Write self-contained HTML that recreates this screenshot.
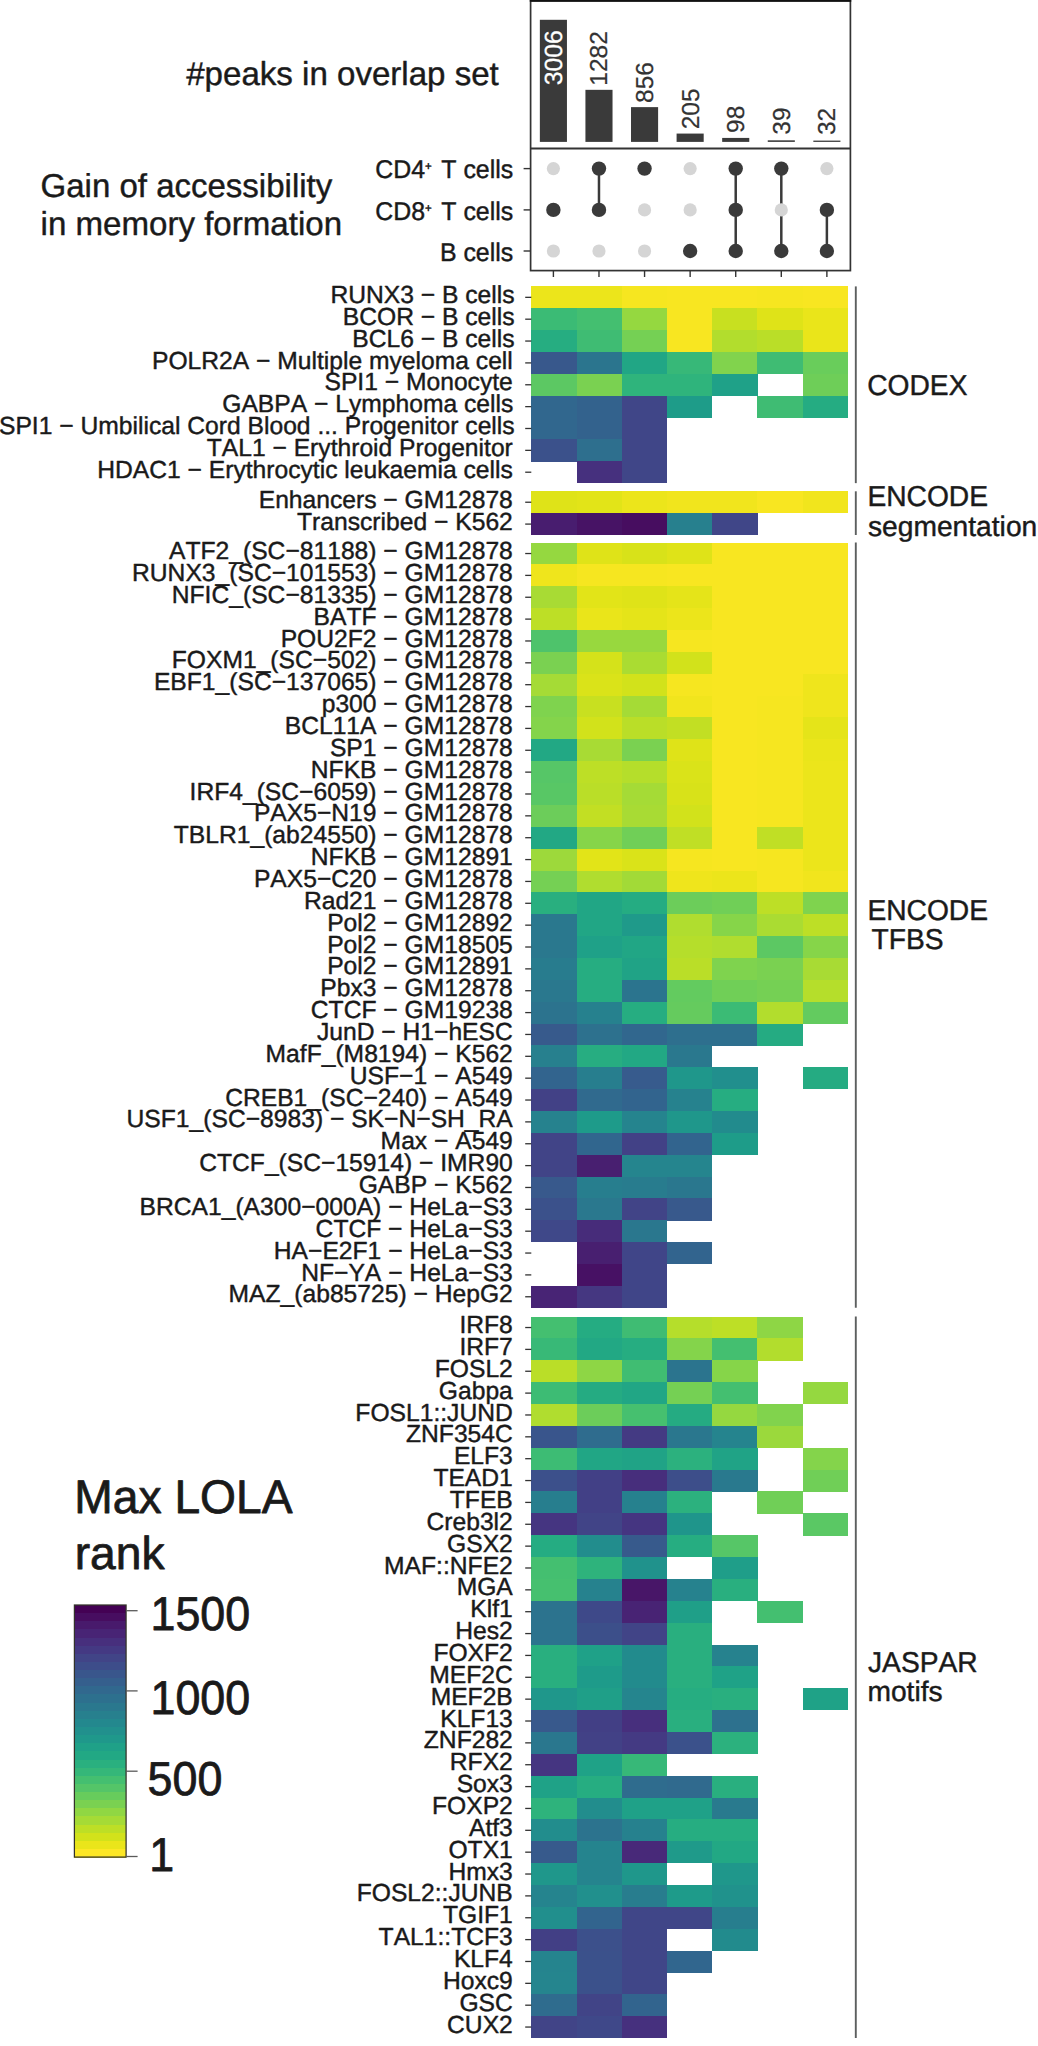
<!DOCTYPE html>
<html lang="en"><head><meta charset="utf-8"><title>LOLA enrichment heatmap</title>
<style>html,body{margin:0;padding:0;background:#fff}svg{display:block}text{font-kerning:none;font-variant-ligatures:none;text-rendering:geometricPrecision}</style></head>
<body>
<svg width="1038" height="2046" viewBox="0 0 1038 2046" font-family='"Liberation Sans", Arial, Helvetica, sans-serif' fill="#1a1a1a">
<rect width="1038" height="2046" fill="#fff"/>
<g id="bars">
<rect x="539.85" y="19.80" width="27.1" height="122.10" fill="#3a3a3a"/>
<rect x="585.43" y="89.83" width="27.1" height="52.07" fill="#3a3a3a"/>
<rect x="631.01" y="107.13" width="27.1" height="34.77" fill="#3a3a3a"/>
<rect x="676.59" y="133.57" width="27.1" height="8.33" fill="#3a3a3a"/>
<rect x="722.17" y="137.92" width="27.1" height="3.98" fill="#3a3a3a"/>
<rect x="767.75" y="140.32" width="27.1" height="1.58" fill="#3a3a3a"/>
<rect x="813.33" y="140.60" width="27.1" height="1.30" fill="#3a3a3a"/>
</g>
<g id="dots">
<circle cx="553.40" cy="168.6" r="6.6" fill="#d5d5d5"/>
<circle cx="553.40" cy="209.9" r="7.2" fill="#3a3a3a"/>
<circle cx="553.40" cy="251.0" r="6.6" fill="#d5d5d5"/>
<line x1="598.98" x2="598.98" y1="168.6" y2="209.9" stroke="#3a3a3a" stroke-width="2.5"/>
<circle cx="598.98" cy="168.6" r="7.2" fill="#3a3a3a"/>
<circle cx="598.98" cy="209.9" r="7.2" fill="#3a3a3a"/>
<circle cx="598.98" cy="251.0" r="6.6" fill="#d5d5d5"/>
<circle cx="644.56" cy="168.6" r="7.2" fill="#3a3a3a"/>
<circle cx="644.56" cy="209.9" r="6.6" fill="#d5d5d5"/>
<circle cx="644.56" cy="251.0" r="6.6" fill="#d5d5d5"/>
<circle cx="690.14" cy="168.6" r="6.6" fill="#d5d5d5"/>
<circle cx="690.14" cy="209.9" r="6.6" fill="#d5d5d5"/>
<circle cx="690.14" cy="251.0" r="7.2" fill="#3a3a3a"/>
<line x1="735.72" x2="735.72" y1="168.6" y2="251.0" stroke="#3a3a3a" stroke-width="2.5"/>
<circle cx="735.72" cy="168.6" r="7.2" fill="#3a3a3a"/>
<circle cx="735.72" cy="209.9" r="7.2" fill="#3a3a3a"/>
<circle cx="735.72" cy="251.0" r="7.2" fill="#3a3a3a"/>
<line x1="781.30" x2="781.30" y1="168.6" y2="251.0" stroke="#3a3a3a" stroke-width="2.5"/>
<circle cx="781.30" cy="168.6" r="7.2" fill="#3a3a3a"/>
<circle cx="781.30" cy="209.9" r="6.6" fill="#d5d5d5"/>
<circle cx="781.30" cy="251.0" r="7.2" fill="#3a3a3a"/>
<line x1="826.88" x2="826.88" y1="209.9" y2="251.0" stroke="#3a3a3a" stroke-width="2.5"/>
<circle cx="826.88" cy="168.6" r="6.6" fill="#d5d5d5"/>
<circle cx="826.88" cy="209.9" r="7.2" fill="#3a3a3a"/>
<circle cx="826.88" cy="251.0" r="7.2" fill="#3a3a3a"/>
</g>
<g stroke="#333" stroke-width="1.7" fill="none">
<rect x="530.6" y="0.8" width="319.80" height="269.80"/>
<line x1="530.6" x2="850.4" y1="148.5" y2="148.5" stroke-width="2"/>
<line x1="523.6" x2="530.6" y1="168.6" y2="168.6" stroke-width="1.4"/>
<line x1="523.6" x2="530.6" y1="209.9" y2="209.9" stroke-width="1.4"/>
<line x1="523.6" x2="530.6" y1="251.0" y2="251.0" stroke-width="1.4"/>
<line x1="553.40" x2="553.40" y1="270.6" y2="277.0" stroke-width="1.4"/>
<line x1="598.98" x2="598.98" y1="270.6" y2="277.0" stroke-width="1.4"/>
<line x1="644.56" x2="644.56" y1="270.6" y2="277.0" stroke-width="1.4"/>
<line x1="690.14" x2="690.14" y1="270.6" y2="277.0" stroke-width="1.4"/>
<line x1="735.72" x2="735.72" y1="270.6" y2="277.0" stroke-width="1.4"/>
<line x1="781.30" x2="781.30" y1="270.6" y2="277.0" stroke-width="1.4"/>
<line x1="826.88" x2="826.88" y1="270.6" y2="277.0" stroke-width="1.4"/>
</g>
<line x1="529.75" x2="851.25" y1="0.9" y2="0.9" stroke="#111" stroke-width="1.8"/>
<g id="hm-codex" shape-rendering="crispEdges">
<rect x="531.30" y="286.40" width="45.50" height="22.16" fill="#ece51b"/>
<rect x="576.50" y="286.40" width="45.50" height="22.16" fill="#ece51b"/>
<rect x="621.70" y="286.40" width="45.50" height="22.16" fill="#f6e620"/>
<rect x="666.90" y="286.40" width="45.50" height="22.16" fill="#f8e621"/>
<rect x="712.10" y="286.40" width="45.50" height="22.16" fill="#f8e621"/>
<rect x="757.30" y="286.40" width="45.50" height="22.16" fill="#f6e620"/>
<rect x="802.50" y="286.40" width="45.50" height="22.16" fill="#f8e621"/>
<rect x="531.30" y="308.26" width="45.50" height="22.16" fill="#3bbb75"/>
<rect x="576.50" y="308.26" width="45.50" height="22.16" fill="#44bf70"/>
<rect x="621.70" y="308.26" width="45.50" height="22.16" fill="#95d840"/>
<rect x="666.90" y="308.26" width="45.50" height="22.16" fill="#f8e621"/>
<rect x="712.10" y="308.26" width="45.50" height="22.16" fill="#c8e020"/>
<rect x="757.30" y="308.26" width="45.50" height="22.16" fill="#dfe318"/>
<rect x="802.50" y="308.26" width="45.50" height="22.16" fill="#eae51a"/>
<rect x="531.30" y="330.12" width="45.50" height="22.16" fill="#26ad81"/>
<rect x="576.50" y="330.12" width="45.50" height="22.16" fill="#3fbc73"/>
<rect x="621.70" y="330.12" width="45.50" height="22.16" fill="#75d054"/>
<rect x="666.90" y="330.12" width="45.50" height="22.16" fill="#f8e621"/>
<rect x="712.10" y="330.12" width="45.50" height="22.16" fill="#b2dd2d"/>
<rect x="757.30" y="330.12" width="45.50" height="22.16" fill="#bade28"/>
<rect x="802.50" y="330.12" width="45.50" height="22.16" fill="#eae51a"/>
<rect x="531.30" y="351.98" width="45.50" height="22.16" fill="#38588c"/>
<rect x="576.50" y="351.98" width="45.50" height="22.16" fill="#2b758e"/>
<rect x="621.70" y="351.98" width="45.50" height="22.16" fill="#21a685"/>
<rect x="666.90" y="351.98" width="45.50" height="22.16" fill="#37b878"/>
<rect x="712.10" y="351.98" width="45.50" height="22.16" fill="#81d34d"/>
<rect x="757.30" y="351.98" width="45.50" height="22.16" fill="#3fbc73"/>
<rect x="802.50" y="351.98" width="45.50" height="22.16" fill="#69cd5b"/>
<rect x="531.30" y="373.84" width="45.50" height="22.16" fill="#5cc863"/>
<rect x="576.50" y="373.84" width="45.50" height="22.16" fill="#7ad151"/>
<rect x="621.70" y="373.84" width="45.50" height="22.16" fill="#2fb47c"/>
<rect x="666.90" y="373.84" width="45.50" height="22.16" fill="#2fb47c"/>
<rect x="712.10" y="373.84" width="45.50" height="22.16" fill="#1fa188"/>
<rect x="802.50" y="373.84" width="45.50" height="22.16" fill="#6ece58"/>
<rect x="531.30" y="395.70" width="45.50" height="22.16" fill="#31678e"/>
<rect x="576.50" y="395.70" width="45.50" height="22.16" fill="#33628d"/>
<rect x="621.70" y="395.70" width="45.50" height="22.16" fill="#404688"/>
<rect x="666.90" y="395.70" width="45.50" height="22.16" fill="#1e9c89"/>
<rect x="757.30" y="395.70" width="45.50" height="22.16" fill="#3fbc73"/>
<rect x="802.50" y="395.70" width="45.50" height="22.16" fill="#25ac82"/>
<rect x="531.30" y="417.56" width="45.50" height="22.16" fill="#31678e"/>
<rect x="576.50" y="417.56" width="45.50" height="22.16" fill="#33628d"/>
<rect x="621.70" y="417.56" width="45.50" height="22.16" fill="#404688"/>
<rect x="531.30" y="439.42" width="45.50" height="22.16" fill="#3b518b"/>
<rect x="576.50" y="439.42" width="45.50" height="22.16" fill="#2e6f8e"/>
<rect x="621.70" y="439.42" width="45.50" height="22.16" fill="#404688"/>
<rect x="576.50" y="461.28" width="45.50" height="22.16" fill="#46307e"/>
<rect x="621.70" y="461.28" width="45.50" height="22.16" fill="#404688"/>
</g>
<g stroke="#333" stroke-width="1.3">
<line x1="525.2" x2="531.3" y1="297.33" y2="297.33"/>
<line x1="525.2" x2="531.3" y1="319.19" y2="319.19"/>
<line x1="525.2" x2="531.3" y1="341.05" y2="341.05"/>
<line x1="525.2" x2="531.3" y1="362.91" y2="362.91"/>
<line x1="525.2" x2="531.3" y1="384.77" y2="384.77"/>
<line x1="525.2" x2="531.3" y1="406.63" y2="406.63"/>
<line x1="525.2" x2="531.3" y1="428.49" y2="428.49"/>
<line x1="525.2" x2="531.3" y1="450.35" y2="450.35"/>
<line x1="525.2" x2="531.3" y1="472.21" y2="472.21"/>
</g>
<line x1="855.8" x2="855.8" y1="286.40" y2="483.14" stroke="#5c5f5f" stroke-width="1.9"/>
<g id="hm-seg" shape-rendering="crispEdges">
<rect x="531.30" y="491.30" width="45.50" height="22.16" fill="#dfe318"/>
<rect x="576.50" y="491.30" width="45.50" height="22.16" fill="#e2e418"/>
<rect x="621.70" y="491.30" width="45.50" height="22.16" fill="#ece51b"/>
<rect x="666.90" y="491.30" width="45.50" height="22.16" fill="#f1e51d"/>
<rect x="712.10" y="491.30" width="45.50" height="22.16" fill="#f1e51d"/>
<rect x="757.30" y="491.30" width="45.50" height="22.16" fill="#f8e621"/>
<rect x="802.50" y="491.30" width="45.50" height="22.16" fill="#f1e51d"/>
<rect x="531.30" y="513.16" width="45.50" height="22.16" fill="#481d6f"/>
<rect x="576.50" y="513.16" width="45.50" height="22.16" fill="#471365"/>
<rect x="621.70" y="513.16" width="45.50" height="22.16" fill="#470d60"/>
<rect x="666.90" y="513.16" width="45.50" height="22.16" fill="#27808e"/>
<rect x="712.10" y="513.16" width="45.50" height="22.16" fill="#404688"/>
</g>
<g stroke="#333" stroke-width="1.3">
<line x1="525.2" x2="531.3" y1="502.23" y2="502.23"/>
<line x1="525.2" x2="531.3" y1="524.09" y2="524.09"/>
</g>
<line x1="855.8" x2="855.8" y1="491.30" y2="535.02" stroke="#5c5f5f" stroke-width="1.9"/>
<g id="hm-tfbs" shape-rendering="crispEdges">
<rect x="531.30" y="542.60" width="45.50" height="22.16" fill="#95d840"/>
<rect x="576.50" y="542.60" width="45.50" height="22.16" fill="#dfe318"/>
<rect x="621.70" y="542.60" width="45.50" height="22.16" fill="#d8e219"/>
<rect x="666.90" y="542.60" width="45.50" height="22.16" fill="#dfe318"/>
<rect x="712.10" y="542.60" width="45.50" height="22.16" fill="#f8e621"/>
<rect x="757.30" y="542.60" width="45.50" height="22.16" fill="#f8e621"/>
<rect x="802.50" y="542.60" width="45.50" height="22.16" fill="#f8e621"/>
<rect x="531.30" y="564.46" width="45.50" height="22.16" fill="#efe51c"/>
<rect x="576.50" y="564.46" width="45.50" height="22.16" fill="#f6e620"/>
<rect x="621.70" y="564.46" width="45.50" height="22.16" fill="#f6e620"/>
<rect x="666.90" y="564.46" width="45.50" height="22.16" fill="#f8e621"/>
<rect x="712.10" y="564.46" width="45.50" height="22.16" fill="#f8e621"/>
<rect x="757.30" y="564.46" width="45.50" height="22.16" fill="#f8e621"/>
<rect x="802.50" y="564.46" width="45.50" height="22.16" fill="#f8e621"/>
<rect x="531.30" y="586.32" width="45.50" height="22.16" fill="#a8db34"/>
<rect x="576.50" y="586.32" width="45.50" height="22.16" fill="#e2e418"/>
<rect x="621.70" y="586.32" width="45.50" height="22.16" fill="#dfe318"/>
<rect x="666.90" y="586.32" width="45.50" height="22.16" fill="#e5e419"/>
<rect x="712.10" y="586.32" width="45.50" height="22.16" fill="#f8e621"/>
<rect x="757.30" y="586.32" width="45.50" height="22.16" fill="#f8e621"/>
<rect x="802.50" y="586.32" width="45.50" height="22.16" fill="#f8e621"/>
<rect x="531.30" y="608.18" width="45.50" height="22.16" fill="#bddf26"/>
<rect x="576.50" y="608.18" width="45.50" height="22.16" fill="#eae51a"/>
<rect x="621.70" y="608.18" width="45.50" height="22.16" fill="#e5e419"/>
<rect x="666.90" y="608.18" width="45.50" height="22.16" fill="#ece51b"/>
<rect x="712.10" y="608.18" width="45.50" height="22.16" fill="#f8e621"/>
<rect x="757.30" y="608.18" width="45.50" height="22.16" fill="#f8e621"/>
<rect x="802.50" y="608.18" width="45.50" height="22.16" fill="#f8e621"/>
<rect x="531.30" y="630.04" width="45.50" height="22.16" fill="#4ec36b"/>
<rect x="576.50" y="630.04" width="45.50" height="22.16" fill="#98d83e"/>
<rect x="621.70" y="630.04" width="45.50" height="22.16" fill="#98d83e"/>
<rect x="666.90" y="630.04" width="45.50" height="22.16" fill="#f6e620"/>
<rect x="712.10" y="630.04" width="45.50" height="22.16" fill="#f8e621"/>
<rect x="757.30" y="630.04" width="45.50" height="22.16" fill="#f8e621"/>
<rect x="802.50" y="630.04" width="45.50" height="22.16" fill="#f8e621"/>
<rect x="531.30" y="651.90" width="45.50" height="22.16" fill="#7ad151"/>
<rect x="576.50" y="651.90" width="45.50" height="22.16" fill="#d5e21a"/>
<rect x="621.70" y="651.90" width="45.50" height="22.16" fill="#aadc32"/>
<rect x="666.90" y="651.90" width="45.50" height="22.16" fill="#d2e21b"/>
<rect x="712.10" y="651.90" width="45.50" height="22.16" fill="#f8e621"/>
<rect x="757.30" y="651.90" width="45.50" height="22.16" fill="#f8e621"/>
<rect x="802.50" y="651.90" width="45.50" height="22.16" fill="#f8e621"/>
<rect x="531.30" y="673.76" width="45.50" height="22.16" fill="#a5db36"/>
<rect x="576.50" y="673.76" width="45.50" height="22.16" fill="#dae319"/>
<rect x="621.70" y="673.76" width="45.50" height="22.16" fill="#d2e21b"/>
<rect x="666.90" y="673.76" width="45.50" height="22.16" fill="#f6e620"/>
<rect x="712.10" y="673.76" width="45.50" height="22.16" fill="#f8e621"/>
<rect x="757.30" y="673.76" width="45.50" height="22.16" fill="#f8e621"/>
<rect x="802.50" y="673.76" width="45.50" height="22.16" fill="#efe51c"/>
<rect x="531.30" y="695.62" width="45.50" height="22.16" fill="#7fd34e"/>
<rect x="576.50" y="695.62" width="45.50" height="22.16" fill="#c8e020"/>
<rect x="621.70" y="695.62" width="45.50" height="22.16" fill="#a5db36"/>
<rect x="666.90" y="695.62" width="45.50" height="22.16" fill="#f1e51d"/>
<rect x="712.10" y="695.62" width="45.50" height="22.16" fill="#f8e621"/>
<rect x="757.30" y="695.62" width="45.50" height="22.16" fill="#f6e620"/>
<rect x="802.50" y="695.62" width="45.50" height="22.16" fill="#efe51c"/>
<rect x="531.30" y="717.48" width="45.50" height="22.16" fill="#84d44b"/>
<rect x="576.50" y="717.48" width="45.50" height="22.16" fill="#d2e21b"/>
<rect x="621.70" y="717.48" width="45.50" height="22.16" fill="#bade28"/>
<rect x="666.90" y="717.48" width="45.50" height="22.16" fill="#c2df23"/>
<rect x="712.10" y="717.48" width="45.50" height="22.16" fill="#f8e621"/>
<rect x="757.30" y="717.48" width="45.50" height="22.16" fill="#f6e620"/>
<rect x="802.50" y="717.48" width="45.50" height="22.16" fill="#e5e419"/>
<rect x="531.30" y="739.34" width="45.50" height="22.16" fill="#22a884"/>
<rect x="576.50" y="739.34" width="45.50" height="22.16" fill="#a8db34"/>
<rect x="621.70" y="739.34" width="45.50" height="22.16" fill="#7ad151"/>
<rect x="666.90" y="739.34" width="45.50" height="22.16" fill="#dfe318"/>
<rect x="712.10" y="739.34" width="45.50" height="22.16" fill="#f8e621"/>
<rect x="757.30" y="739.34" width="45.50" height="22.16" fill="#f6e620"/>
<rect x="802.50" y="739.34" width="45.50" height="22.16" fill="#eae51a"/>
<rect x="531.30" y="761.20" width="45.50" height="22.16" fill="#56c667"/>
<rect x="576.50" y="761.20" width="45.50" height="22.16" fill="#bddf26"/>
<rect x="621.70" y="761.20" width="45.50" height="22.16" fill="#b5de2b"/>
<rect x="666.90" y="761.20" width="45.50" height="22.16" fill="#dae319"/>
<rect x="712.10" y="761.20" width="45.50" height="22.16" fill="#f8e621"/>
<rect x="757.30" y="761.20" width="45.50" height="22.16" fill="#f6e620"/>
<rect x="802.50" y="761.20" width="45.50" height="22.16" fill="#ece51b"/>
<rect x="531.30" y="783.06" width="45.50" height="22.16" fill="#58c765"/>
<rect x="576.50" y="783.06" width="45.50" height="22.16" fill="#bade28"/>
<rect x="621.70" y="783.06" width="45.50" height="22.16" fill="#a5db36"/>
<rect x="666.90" y="783.06" width="45.50" height="22.16" fill="#d8e219"/>
<rect x="712.10" y="783.06" width="45.50" height="22.16" fill="#f8e621"/>
<rect x="757.30" y="783.06" width="45.50" height="22.16" fill="#f6e620"/>
<rect x="802.50" y="783.06" width="45.50" height="22.16" fill="#ece51b"/>
<rect x="531.30" y="804.92" width="45.50" height="22.16" fill="#6ccd5a"/>
<rect x="576.50" y="804.92" width="45.50" height="22.16" fill="#c2df23"/>
<rect x="621.70" y="804.92" width="45.50" height="22.16" fill="#a8db34"/>
<rect x="666.90" y="804.92" width="45.50" height="22.16" fill="#d2e21b"/>
<rect x="712.10" y="804.92" width="45.50" height="22.16" fill="#f8e621"/>
<rect x="757.30" y="804.92" width="45.50" height="22.16" fill="#f6e620"/>
<rect x="802.50" y="804.92" width="45.50" height="22.16" fill="#ece51b"/>
<rect x="531.30" y="826.78" width="45.50" height="22.16" fill="#22a884"/>
<rect x="576.50" y="826.78" width="45.50" height="22.16" fill="#86d549"/>
<rect x="621.70" y="826.78" width="45.50" height="22.16" fill="#70cf57"/>
<rect x="666.90" y="826.78" width="45.50" height="22.16" fill="#c0df25"/>
<rect x="712.10" y="826.78" width="45.50" height="22.16" fill="#f8e621"/>
<rect x="757.30" y="826.78" width="45.50" height="22.16" fill="#c0df25"/>
<rect x="802.50" y="826.78" width="45.50" height="22.16" fill="#ece51b"/>
<rect x="531.30" y="848.64" width="45.50" height="22.16" fill="#9dd93b"/>
<rect x="576.50" y="848.64" width="45.50" height="22.16" fill="#e2e418"/>
<rect x="621.70" y="848.64" width="45.50" height="22.16" fill="#dae319"/>
<rect x="666.90" y="848.64" width="45.50" height="22.16" fill="#f6e620"/>
<rect x="712.10" y="848.64" width="45.50" height="22.16" fill="#f8e621"/>
<rect x="757.30" y="848.64" width="45.50" height="22.16" fill="#f6e620"/>
<rect x="802.50" y="848.64" width="45.50" height="22.16" fill="#ece51b"/>
<rect x="531.30" y="870.50" width="45.50" height="22.16" fill="#75d054"/>
<rect x="576.50" y="870.50" width="45.50" height="22.16" fill="#b0dd2f"/>
<rect x="621.70" y="870.50" width="45.50" height="22.16" fill="#a2da37"/>
<rect x="666.90" y="870.50" width="45.50" height="22.16" fill="#efe51c"/>
<rect x="712.10" y="870.50" width="45.50" height="22.16" fill="#ece51b"/>
<rect x="757.30" y="870.50" width="45.50" height="22.16" fill="#f6e620"/>
<rect x="802.50" y="870.50" width="45.50" height="22.16" fill="#f1e51d"/>
<rect x="531.30" y="892.36" width="45.50" height="22.16" fill="#29af7f"/>
<rect x="576.50" y="892.36" width="45.50" height="22.16" fill="#21a685"/>
<rect x="621.70" y="892.36" width="45.50" height="22.16" fill="#25ac82"/>
<rect x="666.90" y="892.36" width="45.50" height="22.16" fill="#6ccd5a"/>
<rect x="712.10" y="892.36" width="45.50" height="22.16" fill="#70cf57"/>
<rect x="757.30" y="892.36" width="45.50" height="22.16" fill="#bddf26"/>
<rect x="802.50" y="892.36" width="45.50" height="22.16" fill="#7fd34e"/>
<rect x="531.30" y="914.22" width="45.50" height="22.16" fill="#2a788e"/>
<rect x="576.50" y="914.22" width="45.50" height="22.16" fill="#21a685"/>
<rect x="621.70" y="914.22" width="45.50" height="22.16" fill="#1f9a8a"/>
<rect x="666.90" y="914.22" width="45.50" height="22.16" fill="#b0dd2f"/>
<rect x="712.10" y="914.22" width="45.50" height="22.16" fill="#86d549"/>
<rect x="757.30" y="914.22" width="45.50" height="22.16" fill="#aadc32"/>
<rect x="802.50" y="914.22" width="45.50" height="22.16" fill="#bddf26"/>
<rect x="531.30" y="936.08" width="45.50" height="22.16" fill="#2a788e"/>
<rect x="576.50" y="936.08" width="45.50" height="22.16" fill="#1fa188"/>
<rect x="621.70" y="936.08" width="45.50" height="22.16" fill="#21a685"/>
<rect x="666.90" y="936.08" width="45.50" height="22.16" fill="#b5de2b"/>
<rect x="712.10" y="936.08" width="45.50" height="22.16" fill="#b0dd2f"/>
<rect x="757.30" y="936.08" width="45.50" height="22.16" fill="#5cc863"/>
<rect x="802.50" y="936.08" width="45.50" height="22.16" fill="#86d549"/>
<rect x="531.30" y="957.94" width="45.50" height="22.16" fill="#287c8e"/>
<rect x="576.50" y="957.94" width="45.50" height="22.16" fill="#26ad81"/>
<rect x="621.70" y="957.94" width="45.50" height="22.16" fill="#20a386"/>
<rect x="666.90" y="957.94" width="45.50" height="22.16" fill="#bade28"/>
<rect x="712.10" y="957.94" width="45.50" height="22.16" fill="#7fd34e"/>
<rect x="757.30" y="957.94" width="45.50" height="22.16" fill="#7ad151"/>
<rect x="802.50" y="957.94" width="45.50" height="22.16" fill="#a8db34"/>
<rect x="531.30" y="979.80" width="45.50" height="22.16" fill="#2a788e"/>
<rect x="576.50" y="979.80" width="45.50" height="22.16" fill="#26ad81"/>
<rect x="621.70" y="979.80" width="45.50" height="22.16" fill="#2b748e"/>
<rect x="666.90" y="979.80" width="45.50" height="22.16" fill="#63cb5f"/>
<rect x="712.10" y="979.80" width="45.50" height="22.16" fill="#70cf57"/>
<rect x="757.30" y="979.80" width="45.50" height="22.16" fill="#75d054"/>
<rect x="802.50" y="979.80" width="45.50" height="22.16" fill="#b5de2b"/>
<rect x="531.30" y="1001.66" width="45.50" height="22.16" fill="#2c738e"/>
<rect x="576.50" y="1001.66" width="45.50" height="22.16" fill="#26818e"/>
<rect x="621.70" y="1001.66" width="45.50" height="22.16" fill="#26ad81"/>
<rect x="666.90" y="1001.66" width="45.50" height="22.16" fill="#65cb5e"/>
<rect x="712.10" y="1001.66" width="45.50" height="22.16" fill="#3bbb75"/>
<rect x="757.30" y="1001.66" width="45.50" height="22.16" fill="#b2dd2d"/>
<rect x="802.50" y="1001.66" width="45.50" height="22.16" fill="#63cb5f"/>
<rect x="531.30" y="1023.52" width="45.50" height="22.16" fill="#375a8c"/>
<rect x="576.50" y="1023.52" width="45.50" height="22.16" fill="#2d718e"/>
<rect x="621.70" y="1023.52" width="45.50" height="22.16" fill="#31678e"/>
<rect x="666.90" y="1023.52" width="45.50" height="22.16" fill="#2e6f8e"/>
<rect x="712.10" y="1023.52" width="45.50" height="22.16" fill="#2e6f8e"/>
<rect x="757.30" y="1023.52" width="45.50" height="22.16" fill="#25ab82"/>
<rect x="531.30" y="1045.38" width="45.50" height="22.16" fill="#27808e"/>
<rect x="576.50" y="1045.38" width="45.50" height="22.16" fill="#27ad81"/>
<rect x="621.70" y="1045.38" width="45.50" height="22.16" fill="#22a884"/>
<rect x="666.90" y="1045.38" width="45.50" height="22.16" fill="#2a788e"/>
<rect x="531.30" y="1067.24" width="45.50" height="22.16" fill="#32648e"/>
<rect x="576.50" y="1067.24" width="45.50" height="22.16" fill="#277e8e"/>
<rect x="621.70" y="1067.24" width="45.50" height="22.16" fill="#375b8d"/>
<rect x="666.90" y="1067.24" width="45.50" height="22.16" fill="#1f978b"/>
<rect x="712.10" y="1067.24" width="45.50" height="22.16" fill="#218f8d"/>
<rect x="802.50" y="1067.24" width="45.50" height="22.16" fill="#25ab82"/>
<rect x="531.30" y="1089.10" width="45.50" height="22.16" fill="#424186"/>
<rect x="576.50" y="1089.10" width="45.50" height="22.16" fill="#306a8e"/>
<rect x="621.70" y="1089.10" width="45.50" height="22.16" fill="#32648e"/>
<rect x="666.90" y="1089.10" width="45.50" height="22.16" fill="#26828e"/>
<rect x="712.10" y="1089.10" width="45.50" height="22.16" fill="#26ad81"/>
<rect x="531.30" y="1110.96" width="45.50" height="22.16" fill="#26828e"/>
<rect x="576.50" y="1110.96" width="45.50" height="22.16" fill="#1e9b8a"/>
<rect x="621.70" y="1110.96" width="45.50" height="22.16" fill="#25848e"/>
<rect x="666.90" y="1110.96" width="45.50" height="22.16" fill="#1f978b"/>
<rect x="712.10" y="1110.96" width="45.50" height="22.16" fill="#228b8d"/>
<rect x="531.30" y="1132.82" width="45.50" height="22.16" fill="#414487"/>
<rect x="576.50" y="1132.82" width="45.50" height="22.16" fill="#31668e"/>
<rect x="621.70" y="1132.82" width="45.50" height="22.16" fill="#424186"/>
<rect x="666.90" y="1132.82" width="45.50" height="22.16" fill="#32648e"/>
<rect x="712.10" y="1132.82" width="45.50" height="22.16" fill="#1e9c89"/>
<rect x="531.30" y="1154.68" width="45.50" height="22.16" fill="#414487"/>
<rect x="576.50" y="1154.68" width="45.50" height="22.16" fill="#481f70"/>
<rect x="621.70" y="1154.68" width="45.50" height="22.16" fill="#25858e"/>
<rect x="666.90" y="1154.68" width="45.50" height="22.16" fill="#25858e"/>
<rect x="531.30" y="1176.54" width="45.50" height="22.16" fill="#38598c"/>
<rect x="576.50" y="1176.54" width="45.50" height="22.16" fill="#277e8e"/>
<rect x="621.70" y="1176.54" width="45.50" height="22.16" fill="#287c8e"/>
<rect x="666.90" y="1176.54" width="45.50" height="22.16" fill="#2a778e"/>
<rect x="531.30" y="1198.40" width="45.50" height="22.16" fill="#3b518b"/>
<rect x="576.50" y="1198.40" width="45.50" height="22.16" fill="#2a788e"/>
<rect x="621.70" y="1198.40" width="45.50" height="22.16" fill="#414487"/>
<rect x="666.90" y="1198.40" width="45.50" height="22.16" fill="#38598c"/>
<rect x="531.30" y="1220.26" width="45.50" height="22.16" fill="#3f4889"/>
<rect x="576.50" y="1220.26" width="45.50" height="22.16" fill="#472c7a"/>
<rect x="621.70" y="1220.26" width="45.50" height="22.16" fill="#2a778e"/>
<rect x="576.50" y="1242.12" width="45.50" height="22.16" fill="#481f70"/>
<rect x="621.70" y="1242.12" width="45.50" height="22.16" fill="#404588"/>
<rect x="666.90" y="1242.12" width="45.50" height="22.16" fill="#32648e"/>
<rect x="576.50" y="1263.98" width="45.50" height="22.16" fill="#471164"/>
<rect x="621.70" y="1263.98" width="45.50" height="22.16" fill="#404588"/>
<rect x="531.30" y="1285.84" width="45.50" height="22.16" fill="#482475"/>
<rect x="576.50" y="1285.84" width="45.50" height="22.16" fill="#453781"/>
<rect x="621.70" y="1285.84" width="45.50" height="22.16" fill="#404588"/>
</g>
<g stroke="#333" stroke-width="1.3">
<line x1="525.2" x2="531.3" y1="553.53" y2="553.53"/>
<line x1="525.2" x2="531.3" y1="575.39" y2="575.39"/>
<line x1="525.2" x2="531.3" y1="597.25" y2="597.25"/>
<line x1="525.2" x2="531.3" y1="619.11" y2="619.11"/>
<line x1="525.2" x2="531.3" y1="640.97" y2="640.97"/>
<line x1="525.2" x2="531.3" y1="662.83" y2="662.83"/>
<line x1="525.2" x2="531.3" y1="684.69" y2="684.69"/>
<line x1="525.2" x2="531.3" y1="706.55" y2="706.55"/>
<line x1="525.2" x2="531.3" y1="728.41" y2="728.41"/>
<line x1="525.2" x2="531.3" y1="750.27" y2="750.27"/>
<line x1="525.2" x2="531.3" y1="772.13" y2="772.13"/>
<line x1="525.2" x2="531.3" y1="793.99" y2="793.99"/>
<line x1="525.2" x2="531.3" y1="815.85" y2="815.85"/>
<line x1="525.2" x2="531.3" y1="837.71" y2="837.71"/>
<line x1="525.2" x2="531.3" y1="859.57" y2="859.57"/>
<line x1="525.2" x2="531.3" y1="881.43" y2="881.43"/>
<line x1="525.2" x2="531.3" y1="903.29" y2="903.29"/>
<line x1="525.2" x2="531.3" y1="925.15" y2="925.15"/>
<line x1="525.2" x2="531.3" y1="947.01" y2="947.01"/>
<line x1="525.2" x2="531.3" y1="968.87" y2="968.87"/>
<line x1="525.2" x2="531.3" y1="990.73" y2="990.73"/>
<line x1="525.2" x2="531.3" y1="1012.59" y2="1012.59"/>
<line x1="525.2" x2="531.3" y1="1034.45" y2="1034.45"/>
<line x1="525.2" x2="531.3" y1="1056.31" y2="1056.31"/>
<line x1="525.2" x2="531.3" y1="1078.17" y2="1078.17"/>
<line x1="525.2" x2="531.3" y1="1100.03" y2="1100.03"/>
<line x1="525.2" x2="531.3" y1="1121.89" y2="1121.89"/>
<line x1="525.2" x2="531.3" y1="1143.75" y2="1143.75"/>
<line x1="525.2" x2="531.3" y1="1165.61" y2="1165.61"/>
<line x1="525.2" x2="531.3" y1="1187.47" y2="1187.47"/>
<line x1="525.2" x2="531.3" y1="1209.33" y2="1209.33"/>
<line x1="525.2" x2="531.3" y1="1231.19" y2="1231.19"/>
<line x1="525.2" x2="531.3" y1="1253.05" y2="1253.05"/>
<line x1="525.2" x2="531.3" y1="1274.91" y2="1274.91"/>
<line x1="525.2" x2="531.3" y1="1296.77" y2="1296.77"/>
</g>
<line x1="855.8" x2="855.8" y1="542.60" y2="1307.70" stroke="#5c5f5f" stroke-width="1.9"/>
<g id="hm-jaspar" shape-rendering="crispEdges">
<rect x="531.30" y="1316.60" width="45.50" height="22.16" fill="#44bf70"/>
<rect x="576.50" y="1316.60" width="45.50" height="22.16" fill="#25ac82"/>
<rect x="621.70" y="1316.60" width="45.50" height="22.16" fill="#3fbc73"/>
<rect x="666.90" y="1316.60" width="45.50" height="22.16" fill="#b5de2b"/>
<rect x="712.10" y="1316.60" width="45.50" height="22.16" fill="#bddf26"/>
<rect x="757.30" y="1316.60" width="45.50" height="22.16" fill="#8ed645"/>
<rect x="531.30" y="1338.46" width="45.50" height="22.16" fill="#38b977"/>
<rect x="576.50" y="1338.46" width="45.50" height="22.16" fill="#22a884"/>
<rect x="621.70" y="1338.46" width="45.50" height="22.16" fill="#26ad81"/>
<rect x="666.90" y="1338.46" width="45.50" height="22.16" fill="#84d44b"/>
<rect x="712.10" y="1338.46" width="45.50" height="22.16" fill="#44bf70"/>
<rect x="757.30" y="1338.46" width="45.50" height="22.16" fill="#b2dd2d"/>
<rect x="531.30" y="1360.32" width="45.50" height="22.16" fill="#bade28"/>
<rect x="576.50" y="1360.32" width="45.50" height="22.16" fill="#8ed645"/>
<rect x="621.70" y="1360.32" width="45.50" height="22.16" fill="#40bd72"/>
<rect x="666.90" y="1360.32" width="45.50" height="22.16" fill="#2b748e"/>
<rect x="712.10" y="1360.32" width="45.50" height="22.16" fill="#86d549"/>
<rect x="531.30" y="1382.18" width="45.50" height="22.16" fill="#3dbc74"/>
<rect x="576.50" y="1382.18" width="45.50" height="22.16" fill="#25ab82"/>
<rect x="621.70" y="1382.18" width="45.50" height="22.16" fill="#21a685"/>
<rect x="666.90" y="1382.18" width="45.50" height="22.16" fill="#75d054"/>
<rect x="712.10" y="1382.18" width="45.50" height="22.16" fill="#44bf70"/>
<rect x="802.50" y="1382.18" width="45.50" height="22.16" fill="#95d840"/>
<rect x="531.30" y="1404.04" width="45.50" height="22.16" fill="#b0dd2f"/>
<rect x="576.50" y="1404.04" width="45.50" height="22.16" fill="#6ccd5a"/>
<rect x="621.70" y="1404.04" width="45.50" height="22.16" fill="#46c06f"/>
<rect x="666.90" y="1404.04" width="45.50" height="22.16" fill="#25ab82"/>
<rect x="712.10" y="1404.04" width="45.50" height="22.16" fill="#95d840"/>
<rect x="757.30" y="1404.04" width="45.50" height="22.16" fill="#81d34d"/>
<rect x="531.30" y="1425.90" width="45.50" height="22.16" fill="#39558c"/>
<rect x="576.50" y="1425.90" width="45.50" height="22.16" fill="#2f6c8e"/>
<rect x="621.70" y="1425.90" width="45.50" height="22.16" fill="#443a83"/>
<rect x="666.90" y="1425.90" width="45.50" height="22.16" fill="#2a778e"/>
<rect x="712.10" y="1425.90" width="45.50" height="22.16" fill="#25848e"/>
<rect x="757.30" y="1425.90" width="45.50" height="22.16" fill="#9bd93c"/>
<rect x="531.30" y="1447.76" width="45.50" height="22.16" fill="#3dbc74"/>
<rect x="576.50" y="1447.76" width="45.50" height="22.16" fill="#21a685"/>
<rect x="621.70" y="1447.76" width="45.50" height="22.16" fill="#20a386"/>
<rect x="666.90" y="1447.76" width="45.50" height="22.16" fill="#2cb17e"/>
<rect x="712.10" y="1447.76" width="45.50" height="22.16" fill="#20a386"/>
<rect x="802.50" y="1447.76" width="45.50" height="22.16" fill="#84d44b"/>
<rect x="531.30" y="1469.62" width="45.50" height="22.16" fill="#3c508b"/>
<rect x="576.50" y="1469.62" width="45.50" height="22.16" fill="#424086"/>
<rect x="621.70" y="1469.62" width="45.50" height="22.16" fill="#472e7c"/>
<rect x="666.90" y="1469.62" width="45.50" height="22.16" fill="#3d4e8a"/>
<rect x="712.10" y="1469.62" width="45.50" height="22.16" fill="#29798e"/>
<rect x="802.50" y="1469.62" width="45.50" height="22.16" fill="#70cf57"/>
<rect x="531.30" y="1491.48" width="45.50" height="22.16" fill="#277e8e"/>
<rect x="576.50" y="1491.48" width="45.50" height="22.16" fill="#424086"/>
<rect x="621.70" y="1491.48" width="45.50" height="22.16" fill="#26818e"/>
<rect x="666.90" y="1491.48" width="45.50" height="22.16" fill="#2cb17e"/>
<rect x="757.30" y="1491.48" width="45.50" height="22.16" fill="#70cf57"/>
<rect x="531.30" y="1513.34" width="45.50" height="22.16" fill="#453581"/>
<rect x="576.50" y="1513.34" width="45.50" height="22.16" fill="#414487"/>
<rect x="621.70" y="1513.34" width="45.50" height="22.16" fill="#453581"/>
<rect x="666.90" y="1513.34" width="45.50" height="22.16" fill="#1f958b"/>
<rect x="802.50" y="1513.34" width="45.50" height="22.16" fill="#5ac864"/>
<rect x="531.30" y="1535.20" width="45.50" height="22.16" fill="#25ac82"/>
<rect x="576.50" y="1535.20" width="45.50" height="22.16" fill="#228d8d"/>
<rect x="621.70" y="1535.20" width="45.50" height="22.16" fill="#375a8c"/>
<rect x="666.90" y="1535.20" width="45.50" height="22.16" fill="#26ad81"/>
<rect x="712.10" y="1535.20" width="45.50" height="22.16" fill="#56c667"/>
<rect x="531.30" y="1557.06" width="45.50" height="22.16" fill="#44bf70"/>
<rect x="576.50" y="1557.06" width="45.50" height="22.16" fill="#2eb37c"/>
<rect x="621.70" y="1557.06" width="45.50" height="22.16" fill="#20928c"/>
<rect x="712.10" y="1557.06" width="45.50" height="22.16" fill="#1f9e89"/>
<rect x="531.30" y="1578.92" width="45.50" height="22.16" fill="#46c06f"/>
<rect x="576.50" y="1578.92" width="45.50" height="22.16" fill="#26828e"/>
<rect x="621.70" y="1578.92" width="45.50" height="22.16" fill="#481668"/>
<rect x="666.90" y="1578.92" width="45.50" height="22.16" fill="#26828e"/>
<rect x="712.10" y="1578.92" width="45.50" height="22.16" fill="#29af7f"/>
<rect x="531.30" y="1600.78" width="45.50" height="22.16" fill="#2c738e"/>
<rect x="576.50" y="1600.78" width="45.50" height="22.16" fill="#3e4989"/>
<rect x="621.70" y="1600.78" width="45.50" height="22.16" fill="#482374"/>
<rect x="666.90" y="1600.78" width="45.50" height="22.16" fill="#1f9f88"/>
<rect x="757.30" y="1600.78" width="45.50" height="22.16" fill="#44bf70"/>
<rect x="531.30" y="1622.64" width="45.50" height="22.16" fill="#2c738e"/>
<rect x="576.50" y="1622.64" width="45.50" height="22.16" fill="#3c4f8a"/>
<rect x="621.70" y="1622.64" width="45.50" height="22.16" fill="#414487"/>
<rect x="666.90" y="1622.64" width="45.50" height="22.16" fill="#29af7f"/>
<rect x="531.30" y="1644.50" width="45.50" height="22.16" fill="#29af7f"/>
<rect x="576.50" y="1644.50" width="45.50" height="22.16" fill="#1fa188"/>
<rect x="621.70" y="1644.50" width="45.50" height="22.16" fill="#228b8d"/>
<rect x="666.90" y="1644.50" width="45.50" height="22.16" fill="#29af7f"/>
<rect x="712.10" y="1644.50" width="45.50" height="22.16" fill="#26828e"/>
<rect x="531.30" y="1666.36" width="45.50" height="22.16" fill="#29af7f"/>
<rect x="576.50" y="1666.36" width="45.50" height="22.16" fill="#1e9b8a"/>
<rect x="621.70" y="1666.36" width="45.50" height="22.16" fill="#228b8d"/>
<rect x="666.90" y="1666.36" width="45.50" height="22.16" fill="#29af7f"/>
<rect x="712.10" y="1666.36" width="45.50" height="22.16" fill="#1fa287"/>
<rect x="531.30" y="1688.22" width="45.50" height="22.16" fill="#1f978b"/>
<rect x="576.50" y="1688.22" width="45.50" height="22.16" fill="#1f9f88"/>
<rect x="621.70" y="1688.22" width="45.50" height="22.16" fill="#25858e"/>
<rect x="666.90" y="1688.22" width="45.50" height="22.16" fill="#26ad81"/>
<rect x="712.10" y="1688.22" width="45.50" height="22.16" fill="#29af7f"/>
<rect x="802.50" y="1688.22" width="45.50" height="22.16" fill="#1fa287"/>
<rect x="531.30" y="1710.08" width="45.50" height="22.16" fill="#38598c"/>
<rect x="576.50" y="1710.08" width="45.50" height="22.16" fill="#423f85"/>
<rect x="621.70" y="1710.08" width="45.50" height="22.16" fill="#472f7d"/>
<rect x="666.90" y="1710.08" width="45.50" height="22.16" fill="#29af7f"/>
<rect x="712.10" y="1710.08" width="45.50" height="22.16" fill="#2d718e"/>
<rect x="531.30" y="1731.94" width="45.50" height="22.16" fill="#2a778e"/>
<rect x="576.50" y="1731.94" width="45.50" height="22.16" fill="#424186"/>
<rect x="621.70" y="1731.94" width="45.50" height="22.16" fill="#443a83"/>
<rect x="666.90" y="1731.94" width="45.50" height="22.16" fill="#3b518b"/>
<rect x="712.10" y="1731.94" width="45.50" height="22.16" fill="#2cb17e"/>
<rect x="531.30" y="1753.80" width="45.50" height="22.16" fill="#453581"/>
<rect x="576.50" y="1753.80" width="45.50" height="22.16" fill="#1fa287"/>
<rect x="621.70" y="1753.80" width="45.50" height="22.16" fill="#37b878"/>
<rect x="531.30" y="1775.66" width="45.50" height="22.16" fill="#1fa287"/>
<rect x="576.50" y="1775.66" width="45.50" height="22.16" fill="#26ad81"/>
<rect x="621.70" y="1775.66" width="45.50" height="22.16" fill="#2f6c8e"/>
<rect x="666.90" y="1775.66" width="45.50" height="22.16" fill="#306a8e"/>
<rect x="712.10" y="1775.66" width="45.50" height="22.16" fill="#29af7f"/>
<rect x="531.30" y="1797.52" width="45.50" height="22.16" fill="#2eb37c"/>
<rect x="576.50" y="1797.52" width="45.50" height="22.16" fill="#228d8d"/>
<rect x="621.70" y="1797.52" width="45.50" height="22.16" fill="#1fa188"/>
<rect x="666.90" y="1797.52" width="45.50" height="22.16" fill="#1fa188"/>
<rect x="712.10" y="1797.52" width="45.50" height="22.16" fill="#297a8e"/>
<rect x="531.30" y="1819.38" width="45.50" height="22.16" fill="#228d8d"/>
<rect x="576.50" y="1819.38" width="45.50" height="22.16" fill="#2c738e"/>
<rect x="621.70" y="1819.38" width="45.50" height="22.16" fill="#26818e"/>
<rect x="666.90" y="1819.38" width="45.50" height="22.16" fill="#26ad81"/>
<rect x="712.10" y="1819.38" width="45.50" height="22.16" fill="#26ad81"/>
<rect x="531.30" y="1841.24" width="45.50" height="22.16" fill="#375a8c"/>
<rect x="576.50" y="1841.24" width="45.50" height="22.16" fill="#25848e"/>
<rect x="621.70" y="1841.24" width="45.50" height="22.16" fill="#482979"/>
<rect x="666.90" y="1841.24" width="45.50" height="22.16" fill="#1f9a8a"/>
<rect x="712.10" y="1841.24" width="45.50" height="22.16" fill="#22a884"/>
<rect x="531.30" y="1863.10" width="45.50" height="22.16" fill="#1f978b"/>
<rect x="576.50" y="1863.10" width="45.50" height="22.16" fill="#25848e"/>
<rect x="621.70" y="1863.10" width="45.50" height="22.16" fill="#1f978b"/>
<rect x="712.10" y="1863.10" width="45.50" height="22.16" fill="#1f978b"/>
<rect x="531.30" y="1884.96" width="45.50" height="22.16" fill="#25848e"/>
<rect x="576.50" y="1884.96" width="45.50" height="22.16" fill="#21908d"/>
<rect x="621.70" y="1884.96" width="45.50" height="22.16" fill="#287d8e"/>
<rect x="666.90" y="1884.96" width="45.50" height="22.16" fill="#1e9b8a"/>
<rect x="712.10" y="1884.96" width="45.50" height="22.16" fill="#20928c"/>
<rect x="531.30" y="1906.82" width="45.50" height="22.16" fill="#218f8d"/>
<rect x="576.50" y="1906.82" width="45.50" height="22.16" fill="#32648e"/>
<rect x="621.70" y="1906.82" width="45.50" height="22.16" fill="#404688"/>
<rect x="666.90" y="1906.82" width="45.50" height="22.16" fill="#404688"/>
<rect x="712.10" y="1906.82" width="45.50" height="22.16" fill="#277e8e"/>
<rect x="531.30" y="1928.68" width="45.50" height="22.16" fill="#423f85"/>
<rect x="576.50" y="1928.68" width="45.50" height="22.16" fill="#3c508b"/>
<rect x="621.70" y="1928.68" width="45.50" height="22.16" fill="#404688"/>
<rect x="712.10" y="1928.68" width="45.50" height="22.16" fill="#228b8d"/>
<rect x="531.30" y="1950.54" width="45.50" height="22.16" fill="#25848e"/>
<rect x="576.50" y="1950.54" width="45.50" height="22.16" fill="#3b518b"/>
<rect x="621.70" y="1950.54" width="45.50" height="22.16" fill="#404688"/>
<rect x="666.90" y="1950.54" width="45.50" height="22.16" fill="#31668e"/>
<rect x="531.30" y="1972.40" width="45.50" height="22.16" fill="#25858e"/>
<rect x="576.50" y="1972.40" width="45.50" height="22.16" fill="#3b518b"/>
<rect x="621.70" y="1972.40" width="45.50" height="22.16" fill="#404688"/>
<rect x="531.30" y="1994.26" width="45.50" height="22.16" fill="#2f6c8e"/>
<rect x="576.50" y="1994.26" width="45.50" height="22.16" fill="#414487"/>
<rect x="621.70" y="1994.26" width="45.50" height="22.16" fill="#32648e"/>
<rect x="531.30" y="2016.12" width="45.50" height="22.16" fill="#414487"/>
<rect x="576.50" y="2016.12" width="45.50" height="22.16" fill="#3f4889"/>
<rect x="621.70" y="2016.12" width="45.50" height="22.16" fill="#46307e"/>
</g>
<g stroke="#333" stroke-width="1.3">
<line x1="525.2" x2="531.3" y1="1327.53" y2="1327.53"/>
<line x1="525.2" x2="531.3" y1="1349.39" y2="1349.39"/>
<line x1="525.2" x2="531.3" y1="1371.25" y2="1371.25"/>
<line x1="525.2" x2="531.3" y1="1393.11" y2="1393.11"/>
<line x1="525.2" x2="531.3" y1="1414.97" y2="1414.97"/>
<line x1="525.2" x2="531.3" y1="1436.83" y2="1436.83"/>
<line x1="525.2" x2="531.3" y1="1458.69" y2="1458.69"/>
<line x1="525.2" x2="531.3" y1="1480.55" y2="1480.55"/>
<line x1="525.2" x2="531.3" y1="1502.41" y2="1502.41"/>
<line x1="525.2" x2="531.3" y1="1524.27" y2="1524.27"/>
<line x1="525.2" x2="531.3" y1="1546.13" y2="1546.13"/>
<line x1="525.2" x2="531.3" y1="1567.99" y2="1567.99"/>
<line x1="525.2" x2="531.3" y1="1589.85" y2="1589.85"/>
<line x1="525.2" x2="531.3" y1="1611.71" y2="1611.71"/>
<line x1="525.2" x2="531.3" y1="1633.57" y2="1633.57"/>
<line x1="525.2" x2="531.3" y1="1655.43" y2="1655.43"/>
<line x1="525.2" x2="531.3" y1="1677.29" y2="1677.29"/>
<line x1="525.2" x2="531.3" y1="1699.15" y2="1699.15"/>
<line x1="525.2" x2="531.3" y1="1721.01" y2="1721.01"/>
<line x1="525.2" x2="531.3" y1="1742.87" y2="1742.87"/>
<line x1="525.2" x2="531.3" y1="1764.73" y2="1764.73"/>
<line x1="525.2" x2="531.3" y1="1786.59" y2="1786.59"/>
<line x1="525.2" x2="531.3" y1="1808.45" y2="1808.45"/>
<line x1="525.2" x2="531.3" y1="1830.31" y2="1830.31"/>
<line x1="525.2" x2="531.3" y1="1852.17" y2="1852.17"/>
<line x1="525.2" x2="531.3" y1="1874.03" y2="1874.03"/>
<line x1="525.2" x2="531.3" y1="1895.89" y2="1895.89"/>
<line x1="525.2" x2="531.3" y1="1917.75" y2="1917.75"/>
<line x1="525.2" x2="531.3" y1="1939.61" y2="1939.61"/>
<line x1="525.2" x2="531.3" y1="1961.47" y2="1961.47"/>
<line x1="525.2" x2="531.3" y1="1983.33" y2="1983.33"/>
<line x1="525.2" x2="531.3" y1="2005.19" y2="2005.19"/>
<line x1="525.2" x2="531.3" y1="2027.05" y2="2027.05"/>
</g>
<line x1="855.8" x2="855.8" y1="1316.60" y2="2037.98" stroke="#5c5f5f" stroke-width="1.9"/>
<g id="legendbar" shape-rendering="crispEdges">
<rect x="74.4" y="1605.00" width="51.70" height="8.53" fill="#440154"/>
<rect x="74.4" y="1613.13" width="51.70" height="8.53" fill="#470d60"/>
<rect x="74.4" y="1621.26" width="51.70" height="8.53" fill="#481a6c"/>
<rect x="74.4" y="1629.40" width="51.70" height="8.53" fill="#482475"/>
<rect x="74.4" y="1637.53" width="51.70" height="8.53" fill="#472f7d"/>
<rect x="74.4" y="1645.66" width="51.70" height="8.53" fill="#443983"/>
<rect x="74.4" y="1653.79" width="51.70" height="8.53" fill="#414487"/>
<rect x="74.4" y="1661.93" width="51.70" height="8.53" fill="#3d4d8a"/>
<rect x="74.4" y="1670.06" width="51.70" height="8.53" fill="#39568c"/>
<rect x="74.4" y="1678.19" width="51.70" height="8.53" fill="#355f8d"/>
<rect x="74.4" y="1686.32" width="51.70" height="8.53" fill="#31688e"/>
<rect x="74.4" y="1694.45" width="51.70" height="8.53" fill="#2d708e"/>
<rect x="74.4" y="1702.59" width="51.70" height="8.53" fill="#2a788e"/>
<rect x="74.4" y="1710.72" width="51.70" height="8.53" fill="#27808e"/>
<rect x="74.4" y="1718.85" width="51.70" height="8.53" fill="#23888e"/>
<rect x="74.4" y="1726.98" width="51.70" height="8.53" fill="#21908d"/>
<rect x="74.4" y="1735.12" width="51.70" height="8.53" fill="#1f988b"/>
<rect x="74.4" y="1743.25" width="51.70" height="8.53" fill="#1fa188"/>
<rect x="74.4" y="1751.38" width="51.70" height="8.53" fill="#22a884"/>
<rect x="74.4" y="1759.51" width="51.70" height="8.53" fill="#2ab07f"/>
<rect x="74.4" y="1767.65" width="51.70" height="8.53" fill="#35b779"/>
<rect x="74.4" y="1775.78" width="51.70" height="8.53" fill="#44bf70"/>
<rect x="74.4" y="1783.91" width="51.70" height="8.53" fill="#54c568"/>
<rect x="74.4" y="1792.04" width="51.70" height="8.53" fill="#67cc5c"/>
<rect x="74.4" y="1800.17" width="51.70" height="8.53" fill="#7ad151"/>
<rect x="74.4" y="1808.31" width="51.70" height="8.53" fill="#90d743"/>
<rect x="74.4" y="1816.44" width="51.70" height="8.53" fill="#a5db36"/>
<rect x="74.4" y="1824.57" width="51.70" height="8.53" fill="#bddf26"/>
<rect x="74.4" y="1832.70" width="51.70" height="8.53" fill="#d2e21b"/>
<rect x="74.4" y="1840.84" width="51.70" height="8.53" fill="#eae51a"/>
<rect x="74.4" y="1848.97" width="51.70" height="8.53" fill="#fde725"/>
</g>
<rect x="74.4" y="1605.0" width="51.70" height="252.10" fill="none" stroke="#33332a" stroke-width="1.25"/>
<line x1="126.1" x2="137.6" y1="1610.7" y2="1610.7" stroke="#5a5a5a" stroke-width="1.3"/>
<line x1="126.1" x2="137.6" y1="1690.9" y2="1690.9" stroke="#5a5a5a" stroke-width="1.3"/>
<line x1="126.1" x2="137.6" y1="1771.2" y2="1771.2" stroke="#5a5a5a" stroke-width="1.3"/>
<line x1="126.1" x2="137.6" y1="1856.5" y2="1856.5" stroke="#5a5a5a" stroke-width="1.3"/>
<g id="alltext-style" stroke="#1a1a1a" stroke-width="0.42" stroke-linejoin="round">
<text transform="translate(561.80,30.10) rotate(-90)" font-size="24.8" text-anchor="end" fill="#fff" stroke="#fff" stroke-width="0.25">3006</text>
<text transform="translate(607.38,85.63) rotate(-90)" font-size="24.5" text-anchor="start" fill="#333" stroke="#333" stroke-width="0.2">1282</text>
<text transform="translate(652.96,102.93) rotate(-90)" font-size="24.5" text-anchor="start" fill="#333" stroke="#333" stroke-width="0.2">856</text>
<text transform="translate(698.54,129.37) rotate(-90)" font-size="24.5" text-anchor="start" fill="#333" stroke="#333" stroke-width="0.2">205</text>
<text transform="translate(744.12,132.92) rotate(-90)" font-size="24.5" text-anchor="start" fill="#333" stroke="#333" stroke-width="0.2">98</text>
<text transform="translate(789.70,134.72) rotate(-90)" font-size="24.5" text-anchor="start" fill="#333" stroke="#333" stroke-width="0.2">39</text>
<text transform="translate(835.28,135.10) rotate(-90)" font-size="24.5" text-anchor="start" fill="#333" stroke="#333" stroke-width="0.2">32</text>
<g id="setlabels" font-size="24.9" text-anchor="end">
<text transform="translate(513.20,178.40) scale(1.0,1.03)">CD4<tspan font-size="11.5" dy="-8.2" stroke-width="0.5">+</tspan><tspan dy="8.2" dx="2.6"> </tspan>T cells</text>
<text transform="translate(513.20,220.20) scale(1.0,1.03)">CD8<tspan font-size="11.5" dy="-8.2" stroke-width="0.5">+</tspan><tspan dy="8.2" dx="2.6"> </tspan>T cells</text>
<text transform="translate(513.20,261.10) scale(1.0,1.03)">B cells</text>
</g>
<g id="titles" font-size="33.1">
<text transform="translate(186.20,85.00)">#peaks in overlap set</text>
<text transform="translate(40.60,196.60)" font-size="33.0">Gain of accessibility</text>
<text transform="translate(40.60,234.80)">in memory formation</text>
</g>
<g id="lab-codex" font-size="24.65" text-anchor="end">
<text transform="translate(514.60,302.93)">RUNX3 − B cells</text>
<text transform="translate(514.60,324.79)">BCOR − B cells</text>
<text transform="translate(514.60,346.65)">BCL6 − B cells</text>
<text transform="translate(512.80,368.51)">POLR2A − Multiple myeloma cell</text>
<text transform="translate(512.80,390.37)">SPI1 − Monocyte</text>
<text transform="translate(513.30,412.23)">GABPA − Lymphoma cells</text>
<text transform="translate(514.60,434.09)">SPI1 − Umbilical Cord Blood ... Progenitor cells</text>
<text transform="translate(512.80,455.95)">TAL1 − Erythroid Progenitor</text>
<text transform="translate(512.80,477.81)">HDAC1 − Erythrocytic leukaemia cells</text>
</g>
<g id="lab-seg" font-size="24.65" text-anchor="end">
<text transform="translate(512.80,507.83)">Enhancers − GM12878</text>
<text transform="translate(512.80,529.69)">Transcribed − K562</text>
</g>
<g id="lab-tfbs" font-size="24.65" text-anchor="end">
<text transform="translate(512.80,559.13)">ATF2_(SC−81188) − GM12878</text>
<text transform="translate(512.80,580.99)">RUNX3_(SC−101553) − GM12878</text>
<text transform="translate(512.80,602.85)">NFIC_(SC−81335) − GM12878</text>
<text transform="translate(512.80,624.71)">BATF − GM12878</text>
<text transform="translate(512.80,646.57)">POU2F2 − GM12878</text>
<text transform="translate(512.80,668.43)">FOXM1_(SC−502) − GM12878</text>
<text transform="translate(512.80,690.29)">EBF1_(SC−137065) − GM12878</text>
<text transform="translate(512.80,712.15)">p300 − GM12878</text>
<text transform="translate(512.80,734.01)">BCL11A − GM12878</text>
<text transform="translate(512.80,755.87)">SP1 − GM12878</text>
<text transform="translate(512.80,777.73)">NFKB − GM12878</text>
<text transform="translate(512.80,799.59)">IRF4_(SC−6059) − GM12878</text>
<text transform="translate(512.80,821.45)">PAX5−N19 − GM12878</text>
<text transform="translate(512.80,843.31)">TBLR1_(ab24550) − GM12878</text>
<text transform="translate(512.80,865.17)">NFKB − GM12891</text>
<text transform="translate(512.80,887.03)">PAX5−C20 − GM12878</text>
<text transform="translate(512.80,908.89)">Rad21 − GM12878</text>
<text transform="translate(512.80,930.75)">Pol2 − GM12892</text>
<text transform="translate(512.80,952.61)">Pol2 − GM18505</text>
<text transform="translate(512.80,974.47)">Pol2 − GM12891</text>
<text transform="translate(512.80,996.33)">Pbx3 − GM12878</text>
<text transform="translate(512.80,1018.19)">CTCF − GM19238</text>
<text transform="translate(512.80,1040.05)">JunD − H1−hESC</text>
<text transform="translate(512.80,1061.91)">MafF_(M8194) − K562</text>
<text transform="translate(512.80,1083.77)">USF−1 − A549</text>
<text transform="translate(512.80,1105.63)">CREB1_(SC−240) − A549</text>
<text transform="translate(512.80,1127.49)">USF1_(SC−8983) − SK−N−SH_RA</text>
<text transform="translate(512.80,1149.35)">Max − A549</text>
<text transform="translate(512.80,1171.21)">CTCF_(SC−15914) − IMR90</text>
<text transform="translate(512.80,1193.07)">GABP − K562</text>
<text transform="translate(512.80,1214.93)">BRCA1_(A300−000A) − HeLa−S3</text>
<text transform="translate(512.80,1236.79)">CTCF − HeLa−S3</text>
<text transform="translate(512.80,1258.65)">HA−E2F1 − HeLa−S3</text>
<text transform="translate(512.80,1280.51)">NF−YA − HeLa−S3</text>
<text transform="translate(512.80,1302.37)">MAZ_(ab85725) − HepG2</text>
</g>
<g id="lab-jaspar" font-size="24.65" text-anchor="end">
<text transform="translate(512.80,1333.13)">IRF8</text>
<text transform="translate(512.80,1354.99)">IRF7</text>
<text transform="translate(512.80,1376.85)">FOSL2</text>
<text transform="translate(512.80,1398.71)">Gabpa</text>
<text transform="translate(512.80,1420.57)">FOSL1::JUND</text>
<text transform="translate(512.80,1442.43)">ZNF354C</text>
<text transform="translate(512.80,1464.29)">ELF3</text>
<text transform="translate(512.80,1486.15)">TEAD1</text>
<text transform="translate(512.80,1508.01)">TFEB</text>
<text transform="translate(512.80,1529.87)">Creb3l2</text>
<text transform="translate(512.80,1551.73)">GSX2</text>
<text transform="translate(512.80,1573.59)">MAF::NFE2</text>
<text transform="translate(512.80,1595.45)">MGA</text>
<text transform="translate(512.80,1617.31)">Klf1</text>
<text transform="translate(512.80,1639.17)">Hes2</text>
<text transform="translate(512.80,1661.03)">FOXF2</text>
<text transform="translate(512.80,1682.89)">MEF2C</text>
<text transform="translate(512.80,1704.75)">MEF2B</text>
<text transform="translate(512.80,1726.61)">KLF13</text>
<text transform="translate(512.80,1748.47)">ZNF282</text>
<text transform="translate(512.80,1770.33)">RFX2</text>
<text transform="translate(512.80,1792.19)">Sox3</text>
<text transform="translate(512.80,1814.05)">FOXP2</text>
<text transform="translate(512.80,1835.91)">Atf3</text>
<text transform="translate(512.80,1857.77)">OTX1</text>
<text transform="translate(512.80,1879.63)">Hmx3</text>
<text transform="translate(512.80,1901.49)">FOSL2::JUNB</text>
<text transform="translate(512.80,1923.35)">TGIF1</text>
<text transform="translate(512.80,1945.21)">TAL1::TCF3</text>
<text transform="translate(512.80,1967.07)">KLF4</text>
<text transform="translate(512.80,1988.93)">Hoxc9</text>
<text transform="translate(512.80,2010.79)">GSC</text>
<text transform="translate(512.80,2032.65)">CUX2</text>
</g>
<g id="sidelabels" font-size="28.2">
<text transform="translate(867.20,394.90) scale(1.0,1.02)">CODEX</text>
<text transform="translate(867.40,506.00) scale(1.0,1.02)">ENCODE</text>
<text transform="translate(868.00,535.90)">segmentation</text>
<text transform="translate(867.40,919.70) scale(1.0,1.02)">ENCODE</text>
<text transform="translate(871.60,949.20) scale(1.0,1.02)">TFBS</text>
<text transform="translate(868.00,1671.60) scale(1.0,1.02)">JASPAR</text>
<text transform="translate(867.40,1700.90)">motifs</text>
</g>
<g id="legendtext" stroke-width="0.75">
<text transform="translate(74.30,1513.30) scale(1.0,1.02)" font-size="46.2">Max LOLA</text>
<text transform="translate(74.70,1569.20)" font-size="46.2">rank</text>
<text transform="translate(150.50,1629.80) scale(1.0,1.06)" font-size="44.8">1500</text>
<text transform="translate(150.50,1714.40) scale(1.0,1.06)" font-size="44.8">1000</text>
<text transform="translate(147.60,1795.10) scale(1.0,1.06)" font-size="44.8">500</text>
<text transform="translate(149.30,1870.70) scale(1.0,1.06)" font-size="44.8">1</text>
</g>
</g>
</svg>
</body></html>
